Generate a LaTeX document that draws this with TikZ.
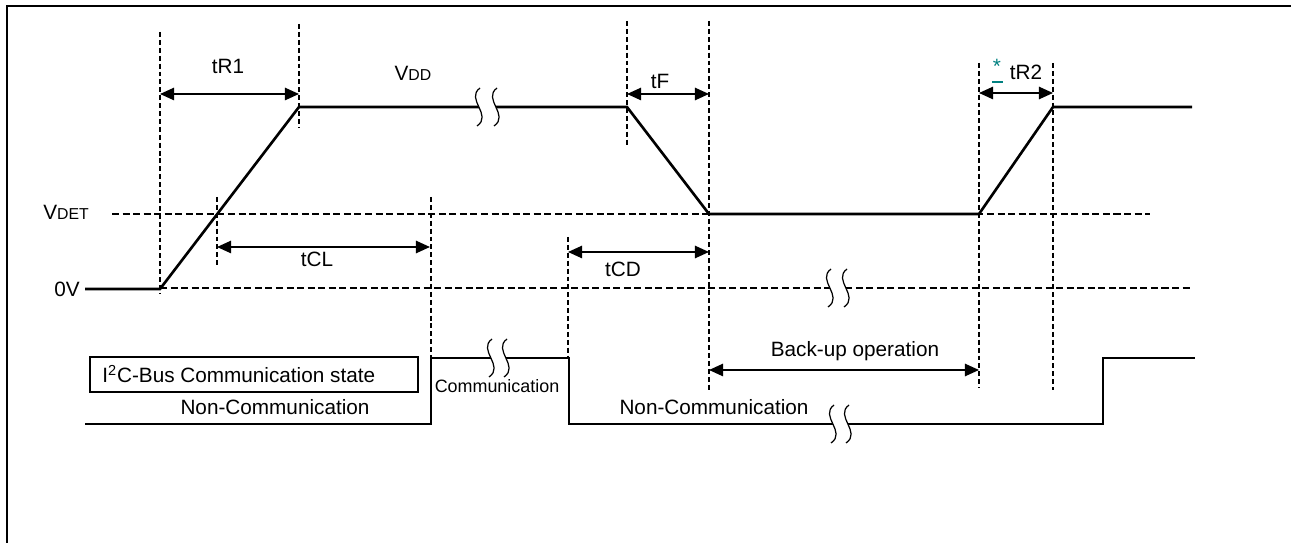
\documentclass[tikz,border=0pt]{standalone}
\usepackage{fontspec}
\setmainfont{Liberation Sans}
\usetikzlibrary{arrows.meta}
\definecolor{markteal}{RGB}{0,128,128}
% break mark: two S curves at x=#1 and x=#2 on a line at height #3
\newcommand{\gapmark}[3]{%
  \fill[white] (#1+1,#3-19) .. controls (#1-14,#3-8) and (#1+14,#3+8) .. (#1-2,#3+19)
    -- (#2-2,#3+19) .. controls (#2+14,#3+8) and (#2-14,#3-8) .. (#2+1,#3-19) -- cycle;
  \draw[gapline] (#1+1,#3-19) .. controls (#1-14,#3-8) and (#1+14,#3+8) .. (#1-2,#3+19);
  \draw[gapline] (#2+1,#3-19) .. controls (#2-14,#3-8) and (#2+14,#3+8) .. (#2-2,#3+19);
}

\begin{document}
\begin{tikzpicture}[x=0.02cm, y=-0.02cm, every node/.style={font=\fontsize{11.8}{14}\selectfont, inner sep=0pt}]
		\tikzstyle{signal} = [line width=1.5pt]
		\tikzstyle{guide} = [line width=0.7pt, dash pattern=on 2.8pt off 1.7pt]
		\tikzstyle{level} = [line width=1pt, dash pattern=on 4pt off 2pt]
		\tikzstyle{gapline} = [line width=0.7pt]
		\tikzstyle{dimarrow} = [line width=1pt, {Triangle[length=8pt,width=7pt]}-{Triangle[length=8pt,width=7pt]}]
		\tikzstyle{label} = [anchor=base]
		
		\useasboundingbox (0,0) rectangle (1291,543);
		\draw [line width=1.3pt] (7,543) -- (7,6) -- (1291,6);
		
		% guide lines
		\draw [level] (112,214) -- (1150,214);
		\draw [level] (160,288) -- (1193,288);
		\draw [guide] (160,32) -- (160,293);
		\draw [guide] (299,24) -- (299,127);
		\draw [guide] (217,197) -- (217,267);
		\draw [guide] (431,197) -- (431,358);
		\draw [guide] (568,237) -- (568,358);
		\draw [guide] (627,21) -- (627,146);
		\draw [guide] (709,21) -- (709,390);
		\draw [guide] (979,63) -- (979,388);
		\draw [guide] (1053,63) -- (1053,390);
		
		% supply voltage
		\coordinate (vStart) at (85,289);
		\coordinate (vOn) at (160,289);
		\coordinate (vTopA) at (299,107);
		\coordinate (vFall) at (627,107);
		\coordinate (vLow) at (709,214);
		\coordinate (vRise) at (979,214);
		\coordinate (vTopB) at (1053,107);
		\coordinate (vEnd) at (1192,107);
		\draw [signal] (vStart) -- (vOn) -- (vTopA) -- (vFall) -- (vLow) -- (vRise) -- (vTopB) -- (vEnd);
		
		% bus state
		\coordinate (bStart) at (85,424);
		\coordinate (bUpA) at (431,424);
		\coordinate (bHighA) at (431,358);
		\coordinate (bHighB) at (569,358);
		\coordinate (bDown) at (569,424);
		\coordinate (bUpB) at (1103,424);
		\coordinate (bHighC) at (1103,358);
		\coordinate (bEnd) at (1195,358);
		\draw [signal] (bStart) -- (bUpA) -- (bHighA) -- (bHighB) -- (bDown) -- (bUpB) -- (bHighC) -- (bEnd);
		
		\gapmark{479}{496}{107}
		\gapmark{830}{846}{288}
		\gapmark{491}{506}{358}
		\gapmark{833}{848}{424}
		
		% timing arrows
		\foreach \n/\x/\y in {rA/160/94, rB/299/94, lA/217/247, lB/430/247, fA/627/94, fB/709/94,
			dA/568/252, dB/709/252, sA/979/93, sB/1053/93, uA/709/370, uB/979/370}
			\coordinate (\n) at (\x,\y);
		\draw [dimarrow] (rA) -- (rB);
		\draw [dimarrow] (lA) -- (lB);
		\draw [dimarrow] (fA) -- (fB);
		\draw [dimarrow] (dA) -- (dB);
		\draw [dimarrow] (sA) -- (sB);
		\draw [dimarrow] (uA) -- (uB);
		
		\node (tRone) [label] at (228,74) {tR1};
		\node (vdd) [label] at (413,81) {V{\fontsize{9}{10}\selectfont DD}};
		\node (vdet) [label] at (66,220) {V{\fontsize{9}{10}\selectfont DET}};
		\node (zero) [anchor=base east] at (80,297) {0V};
		\node (tCL) [label] at (317,267) {tCL};
		\node (tF) [label] at (660,89) {tF};
		\node (tCD) [label] at (623,277) {tCD};
		\node (star) [text=markteal] at (997,66) {*};
		\draw [markteal, line width=1.1pt] (992,82) -- (1003,82);
		\node (tRtwo) [label] at (1026,80) {tR2};
		\node (backup) [label] at (855,357) {Back-up operation};
		
		\node (busbox) [draw, line width=1.1pt, minimum width=6.56cm, minimum height=0.7cm] at (254,374.5) {};
		\node (busstate) [anchor=base west] at (102,383) {I\textsuperscript{2}C-Bus Communication state};
		\node (nonA) [label] at (275,415) {Non-Communication};
		\node (comm) [label, font=\fontsize{10.2}{12}\selectfont] at (497,393) {Communication};
		\node (nonB) [label] at (714,415) {Non-Communication};
\end{tikzpicture}
\end{document}
